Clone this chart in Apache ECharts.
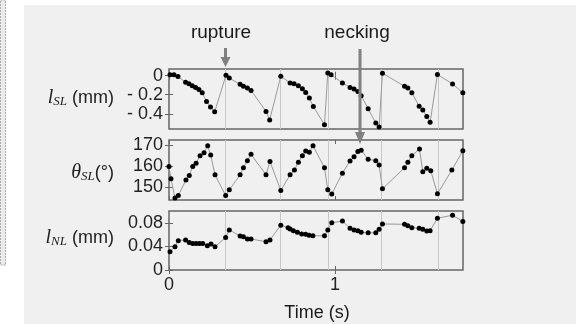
<!DOCTYPE html>
<html>
<head>
<meta charset="utf-8">
<script src="https://cdn.jsdelivr.net/npm/echarts@6.0.0/dist/echarts.min.js"></script>
<style>
  html, body { margin: 0; padding: 0; background: #fff; }
  #chart { width: 585px; height: 324px; }
</style>
</head>
<body>
<div id="chart"></div>
<script>
// time (s), value pairs
const lengthSL = [
  [0.006, 0.01], [0.03, 0.01], [0.054, -0.01], [0.1, -0.07], [0.12, -0.085], [0.14, -0.105],
  [0.16, -0.125], [0.18, -0.145], [0.2, -0.18], [0.226, -0.27], [0.25, -0.33], [0.275, -0.38],
  [0.343, 0.005], [0.363, -0.025], [0.428, -0.09], [0.448, -0.11], [0.472, -0.13], [0.494, -0.155],
  [0.584, -0.375], [0.606, -0.465],
  [0.673, -0.005], [0.729, -0.077], [0.753, -0.084], [0.779, -0.105], [0.803, -0.137], [0.823, -0.176],
  [0.845, -0.235], [0.869, -0.323], [0.936, -0.516],
  [0.956, 0.028], [0.976, 0.01], [1.044, -0.077], [1.09, -0.123], [1.114, -0.14], [1.137, -0.165],
  [1.157, -0.21], [1.199, -0.347], [1.245, -0.498], [1.265, -0.54],
  [1.285, 0.026], [1.418, -0.112], [1.438, -0.13], [1.462, -0.18], [1.506, -0.32], [1.528, -0.36],
  [1.552, -0.43], [1.572, -0.49],
  [1.616, 0.012], [1.707, -0.087], [1.769, -0.18]
]

const angleSL = [
  [0, 159.8], [0.012, 154], [0.036, 145], [0.056, 146.1], [0.102, 153.5], [0.122, 155.6], [0.143, 159.8],
  [0.163, 161.4], [0.187, 165], [0.211, 166.4], [0.233, 169.7], [0.251, 165.3], [0.277, 155.9],
  [0.341, 146.1], [0.363, 148.8], [0.428, 155.9], [0.448, 159.3], [0.472, 162.6], [0.494, 165.6],
  [0.584, 155.9], [0.608, 162.2],
  [0.673, 148.5], [0.729, 155.9], [0.755, 158.2], [0.779, 161.9], [0.803, 165], [0.823, 167.2],
  [0.845, 166.6], [0.867, 169.7], [0.936, 159.3], [0.956, 148.8], [0.98, 146.8],
  [1.044, 156.7], [1.09, 162.5], [1.114, 164.5], [1.137, 166.9], [1.157, 167.6], [1.199, 163.3],
  [1.245, 162.6], [1.265, 160.6], [1.285, 149.3],
  [1.418, 159.3], [1.438, 161.9], [1.462, 165], [1.508, 168.1], [1.528, 157.4], [1.552, 159],
  [1.576, 157.9], [1.616, 146.9], [1.703, 158.2], [1.769, 167.3]
]

const lengthNL = [
  [0.006, 0.031], [0.036, 0.0395], [0.056, 0.0497], [0.1, 0.051], [0.122, 0.0465], [0.143, 0.045],
  [0.163, 0.045], [0.183, 0.045], [0.203, 0.045], [0.231, 0.041], [0.253, 0.044], [0.277, 0.0395],
  [0.341, 0.055], [0.363, 0.068], [0.428, 0.0576], [0.448, 0.0565], [0.472, 0.0525], [0.494, 0.0525],
  [0.584, 0.048], [0.608, 0.051],
  [0.673, 0.076], [0.717, 0.0715], [0.729, 0.0695], [0.749, 0.0667], [0.773, 0.064], [0.799, 0.061],
  [0.823, 0.0605], [0.843, 0.059], [0.866, 0.058], [0.936, 0.058],
  [0.956, 0.068], [0.98, 0.08], [1.044, 0.083], [1.09, 0.0706], [1.114, 0.068], [1.137, 0.0667],
  [1.157, 0.064], [1.199, 0.063], [1.245, 0.063], [1.265, 0.069], [1.285, 0.078],
  [1.418, 0.0775], [1.438, 0.075], [1.462, 0.0717], [1.506, 0.0706], [1.528, 0.069], [1.552, 0.066],
  [1.572, 0.0667], [1.616, 0.0876], [1.707, 0.093], [1.769, 0.082]
]

const ruptureTimes = [0.343, 0.673, 0.956, 1.285, 1.616]
const ruptureArrowTime = 0.34
const neckingArrowTime = 1.15

const timeTicks = [0, 1]
const slTicks = [0, -0.2, -0.4]
const angleTicks = [150, 160, 170]
const nlTicks = [0, 0.04, 0.08]

const SANS = 'Liberation Sans, Arial, sans-serif'
const SERIF = 'Liberation Serif, Times New Roman, serif'
const FRAME = '#666'

// 三个面板的布局
const panels = [
  { top: 69, height: 60, min: -0.56, max: 0.07, ticks: slTicks, data: lengthSL,
    fmt: v => (v === 0 ? '0' : '- ' + Math.abs(v)) },
  { top: 140, height: 60, min: 144, max: 172.4, ticks: angleTicks, data: angleSL, fmt: v => String(v) },
  { top: 211, height: 59, min: 0, max: 0.1, ticks: nlTicks, data: lengthNL, fmt: v => String(v) },
]

const tickStyle = { show: true, inside: true, length: 4, lineStyle: { color: FRAME, width: 1 } }

const xAxes = []
const yAxes = []
panels.forEach((p, i) => {
  const last = i === panels.length - 1
  xAxes.push({
    type: 'value', gridIndex: i, min: 0, max: 1.77, interval: 1, position: 'bottom',
    axisLine: { show: false },
    axisTick: { ...tickStyle, customValues: timeTicks },
    axisLabel: {
      show: last, customValues: timeTicks, margin: 6,
      fontFamily: SANS, fontSize: 18, color: '#222',
    },
    splitLine: { show: false },
  })
  xAxes.push({
    type: 'value', gridIndex: i, min: 0, max: 1.77, interval: 1, position: 'top',
    axisLine: { show: false },
    axisTick: { ...tickStyle, customValues: timeTicks },
    axisLabel: { show: false },
    splitLine: { show: false },
  })
  yAxes.push({
    type: 'value', gridIndex: i, min: p.min, max: p.max, position: 'left',
    axisLine: { show: false },
    axisTick: { ...tickStyle, customValues: p.ticks },
    axisLabel: {
      customValues: p.ticks, formatter: p.fmt, margin: 6,
      fontFamily: SANS, fontSize: 18, color: '#222',
    },
    splitLine: { show: false },
  })
  yAxes.push({
    type: 'value', gridIndex: i, min: p.min, max: p.max, position: 'right',
    axisLine: { show: false },
    axisTick: { ...tickStyle, customValues: p.ticks },
    axisLabel: { show: false },
    splitLine: { show: false },
  })
})

// 断裂时刻的竖线放在单独的 series 里，压在数据点下面
const ruptureSeries = panels.map((p, i) => ({
  type: 'line',
  xAxisIndex: i * 2,
  yAxisIndex: i * 2,
  data: [],
  z: 1,
  markLine: {
    z: 1,
    silent: true,
    symbol: ['none', 'none'],
    label: { show: false },
    lineStyle: { color: '#c8c8c8', width: 1, type: 'solid' },
    data: ruptureTimes.map(t => ({ xAxis: t })),
  },
}))

const dataSeries = panels.map((p, i) => ({
  type: 'line',
  xAxisIndex: i * 2,
  yAxisIndex: i * 2,
  data: p.data,
  symbol: 'circle',
  symbolSize: 5,
  lineStyle: { color: '#999', width: 1 },
  itemStyle: { color: '#000' },
  z: 6,
}))

const axisTitle = (y, rich, text) => ({
  type: 'text', x: 114, y, z: 10,
  style: { text, align: 'right', verticalAlign: 'middle', rich, fill: '#222' },
})

const richLabel = {
  v: { fontFamily: SERIF, fontStyle: 'italic', fontSize: 20, color: '#222' },
  s: { fontFamily: SERIF, fontStyle: 'italic', fontSize: 13, color: '#222', padding: [8, 0, 0, 0] },
  u: { fontFamily: SANS, fontSize: 18, color: '#222' },
}

const chart = echarts.init(document.getElementById('chart'), null, { renderer: 'canvas' })

chart.setOption({
  animation: false,
  backgroundColor: '#fff',
  grid: panels.map(p => ({
    left: 169, width: 294, top: p.top, height: p.height,
    show: true, borderColor: FRAME, borderWidth: 1.5, backgroundColor: 'transparent',
  })),
  xAxis: xAxes,
  yAxis: yAxes,
  series: [...ruptureSeries, ...dataSeries],
})

// 箭头位置由坐标换算
const rx = chart.convertToPixel({ xAxisIndex: 0 }, ruptureArrowTime)
const nx = chart.convertToPixel({ xAxisIndex: 0 }, neckingArrowTime)
const arrowColor = '#808080'

const arrow = (x, y0, y1, headLen) => [
  { type: 'rect', z: 20, shape: { x: x - 1.5, y: y0, width: 3, height: y1 - headLen - y0 + 1 }, style: { fill: arrowColor } },
  { type: 'polygon', z: 20, shape: { points: [[x - 5, y1 - headLen], [x + 5, y1 - headLen], [x, y1]] }, style: { fill: arrowColor } },
]

chart.setOption({
  graphic: {
    elements: [
      { type: 'rect', z: -10, shape: { x: 24, y: 5, width: 552, height: 319 }, style: { fill: '#f0f0f0' } },
      { type: 'rect', z: -10, shape: { x: 0.5, y: 0, width: 5, height: 265 },
        style: { fill: '#ececec', stroke: '#aaa', lineWidth: 1, lineDash: [2, 1] } },
      ...arrow(rx, 48, 67, 10),
      ...arrow(nx, 49, 144, 12),
      { type: 'text', z: 10, x: 221, y: 33,
        style: { text: 'rupture', font: '19px ' + SANS, fill: '#1a1a1a', align: 'center', verticalAlign: 'middle' } },
      { type: 'text', z: 10, x: 357, y: 33,
        style: { text: 'necking', font: '19px ' + SANS, fill: '#1a1a1a', align: 'center', verticalAlign: 'middle' } },
      { type: 'text', z: 10, x: 317, y: 313,
        style: { text: 'Time (s)', font: '18px ' + SANS, fill: '#1a1a1a', align: 'center', verticalAlign: 'middle' } },
      axisTitle(98, richLabel, '{v|l}{s|SL}{u| (mm)}'),
      axisTitle(173, richLabel, '{v|θ}{s|SL}{u|(°)}'),
      axisTitle(238, richLabel, '{v|l}{s|NL}{u| (mm)}'),
    ],
  },
})
</script>
</body>
</html>
